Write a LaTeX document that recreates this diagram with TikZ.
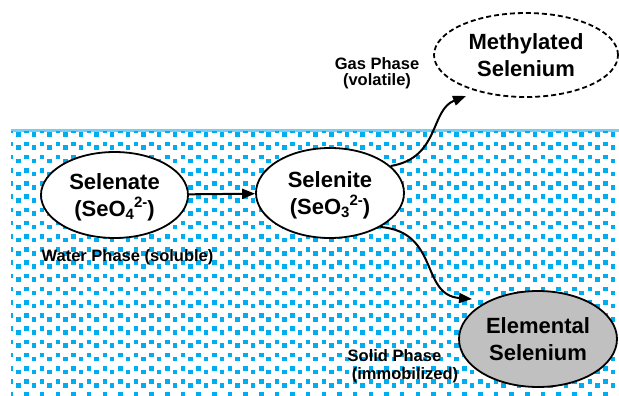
\documentclass[tikz,border=0pt]{standalone}
\usepackage{fontspec}
\setmainfont{Liberation Sans}
\usetikzlibrary{shapes.geometric,arrows.meta}
\definecolor{dotblue}{RGB}{0,174,239}
\definecolor{lineblue}{RGB}{120,205,242}
\definecolor{elgray}{RGB}{192,192,192}
\newcommand{\ionidx}[2]{{\fontsize{15}{15}\selectfont\raisebox{-3.5pt}{#1}\raisebox{9pt}{#2}}}
\begin{document}
\begin{tikzpicture}[x=1pt,y=-1pt,
  sp/.style={ellipse, draw, line width=1.8pt, inner sep=0pt, align=center,
    font=\fontsize{22}{27}\selectfont\bfseries, text depth=0pt},
  lbl/.style={font=\fontsize{16.5}{17}\selectfont\bfseries, inner sep=0pt},
  flow/.style={line width=2pt, -{Triangle[length=13pt,width=10pt]}},
  dot/.style={fill=dotblue}]
\useasboundingbox (0,0) rectangle (619,396);
% water zone
\draw[lineblue, line width=2.5pt] (11,130.5) -- (619,130.5);
\begin{scope}
\clip (11,131) rectangle (619,396);
\foreach \i in {-1,...,39} {
  \foreach \j in {-1,...,20} {
    \fill[dot] ({16.05+15.65*\i},{132.25+13.2*\j}) rectangle ++(4.5,4.5);
    \fill[dot] ({24.25+15.65*\i},{141.65+13.2*\j}) rectangle ++(4.5,4.5);
  }
}
\end{scope}
% species
\node[sp, fill=white, minimum width=147pt, minimum height=86pt] (selenate) at (114.5,195) {Selenate\\(SeO\ionidx{4}{2-})};
\node[sp, fill=white, minimum width=148pt, minimum height=90pt] (selenite) at (330,193) {Selenite\\(SeO\ionidx{3}{2-})};
\node[sp, fill=white, dash pattern=on 5pt off 3pt, minimum width=184pt, minimum height=84pt] (methyl) at (526,55) {Methylated\\Selenium};
\node[sp, fill=elgray, minimum width=158pt, minimum height=96pt] (elemental) at (538,339) {Elemental\\Selenium};
% labels
\node[lbl] (gas) at (377,64) {Gas Phase};
\node[lbl] (vol) at (377,81.5) {(volatile)};
\node[lbl] (water) at (127.5,257) {Water Phase (soluble)};
\node[lbl] (solid) at (394.5,355.5) {Solid Phase};
\node[lbl] (immob) at (405,375.5) {(immobilized)};
% arrows
\coordinate (mtip) at (466,96);
\coordinate (etip) at (472,299);
\draw[flow] (selenate) -- (selenite);
\draw[flow] (selenite.24) .. controls (440,158) and (430,110) .. (mtip);
\draw[flow] (selenite.-34) .. controls (440,232) and (420,295) .. (etip);
\end{tikzpicture}
\end{document}
